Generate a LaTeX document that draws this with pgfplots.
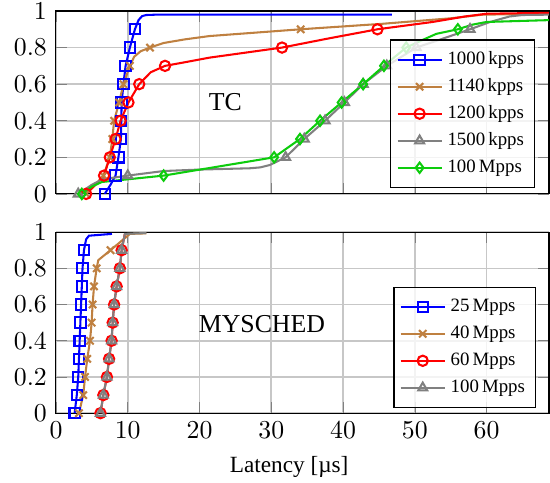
\documentclass[border=0pt]{standalone}
\usepackage{fontspec}
\setmainfont{Liberation Serif}
\usepackage{pgfplots}
\pgfplotsset{compat=1.18}
\definecolor{cbrown}{rgb}{0.75,0.5,0.25}
\definecolor{cgreen}{rgb}{0.05,0.8,0.05}
\pgfplotsset{
  cdf/.style={
    width=191.1pt, scale only axis, xmin=0, xmax=68.7, ymin=0, ymax=1,
    xtick={0,10,20,30,40,50,60}, ytick={0,0.2,0.4,0.6,0.8,1},
    grid=major, grid style={black!22, line width=0.6pt},
    legend cell align=left,
    legend image post style={mark indices={2}},
    legend style={font=\fontsize{7.3}{9}\selectfont, fill=white, fill opacity=0.8, draw opacity=1, text opacity=1,
      inner xsep=2.2pt, inner ysep=2.4pt,
      nodes={text height=5.3pt, text depth=1.45pt, inner ysep=1.86pt, inner xsep=1.9pt},
      at={(rel axis cs:1,0)}, anchor=south east, xshift=-5.4pt, yshift=2.3pt},
    every axis plot/.append style={thick},
  }
}
\begin{document}
\begin{tikzpicture}
\begin{axis}[cdf, height=70.9pt, at={(0,0)}, anchor=north west, xticklabels={}]
\addplot[blue, mark=square, mark indices={1,3,4,5,6,7,8,9,10,11}] coordinates {
(6.8,0) (7.6,0.05) (8.3,0.1) (8.7,0.2) (9.05,0.3) (9.1,0.4) (9.15,0.5) (9.4,0.6) (9.7,0.7) (10.3,0.8) (11.0,0.9) (11.5,0.95) (12.0,0.972) (12.6,0.978) (14,0.98) (46.8,0.98)};
\addlegendentry{1000\,kpps}
\addplot[cbrown, mark=x, mark indices={1,3,4,5,6,7,8,9,12,16}] coordinates {
(4.2,0) (5.5,0.05) (6.6,0.1) (7.5,0.2) (7.85,0.3) (8.1,0.4) (8.8,0.5) (9.4,0.6) (10.3,0.7) (10.9,0.75) (11.8,0.78) (13.1,0.8) (15,0.825) (18,0.845) (21.4,0.863) (34.1,0.9) (45.5,0.93) (55,0.96) (59.5,0.98) (68.7,0.985)};
\addlegendentry{1140\,kpps}
\addplot[red, mark=o, mark indices={1,3,4,5,6,7,8,10,14,16}] coordinates {
(4.2,0) (5.5,0.05) (6.7,0.1) (7.5,0.2) (8.3,0.3) (9.0,0.4) (10.1,0.5) (11.6,0.6) (13.2,0.665) (15.2,0.7) (18,0.72) (21.4,0.745) (26,0.77) (31.5,0.8) (38,0.85) (44.8,0.9) (52.5,0.94) (57,0.97) (60,0.985) (68.7,0.99)};
\addlegendentry{1200\,kpps}
\addplot[gray, mark=triangle, mark indices={1,4,10,11,12,13,14,15,16,18}] coordinates {
(3.1,0) (5,0.05) (6.5,0.08) (10,0.1) (15,0.125) (20,0.133) (27,0.14) (28.5,0.145) (29.8,0.158) (32.0,0.2) (34.6,0.3) (37.5,0.4) (40.2,0.5) (42.8,0.6) (46.1,0.7) (50.2,0.8) (54,0.85) (57.7,0.9) (60.5,0.94) (63.2,0.97) (65,0.978) (68.7,0.98)};
\addlegendentry{1500\,kpps}
\addplot[cgreen, mark=diamond, mark indices={1,4,5,6,7,8,9,10,11,14}] coordinates {
(3.6,0) (5,0.04) (6.4,0.065) (15.0,0.1) (30.4,0.2) (34.0,0.3) (36.8,0.4) (39.8,0.5) (42.8,0.6) (45.7,0.7) (48.8,0.8) (51,0.84) (53,0.875) (56,0.9) (58,0.925) (60,0.94) (68.7,0.95)};
\addlegendentry{100\,Mpps}
\node at (axis cs:23.6,0.5) {TC};
\end{axis}
\begin{axis}[cdf, height=70.2pt, at={(0,-85.7pt)}, anchor=north west,
  legend style={xshift=0.4pt, yshift=-0.3pt},
  xlabel={Latency [µs]},
  xlabel style={font=\fontsize{9}{11}\selectfont, at={(ticklabel cs:0.473)}, anchor=near ticklabel}]
\addplot[blue, mark=square, mark indices={1,2,3,4,5,6,7,8,9,10}] coordinates {
(2.6,0) (2.9,0.1) (3.1,0.2) (3.2,0.3) (3.3,0.4) (3.4,0.5) (3.5,0.6) (3.6,0.7) (3.7,0.8) (3.9,0.9) (4.2,0.96) (4.6,0.98) (7.8,0.99)};
\addlegendentry{25\,Mpps}
\addplot[cbrown, mark=x, mark indices={1,2,3,4,5,6,7,8,9,11}] coordinates {
(3.2,0) (3.8,0.1) (4.05,0.2) (4.36,0.3) (4.74,0.4) (4.97,0.5) (5.1,0.6) (5.3,0.7) (5.67,0.8) (5.9,0.845) (7.6,0.9) (10.3,0.99) (12.6,0.993)};
\addlegendentry{40\,Mpps}
\addplot[red, mark=o, mark indices={1,2,3,4,5,6,7,8,9,10}] coordinates {
(6.2,0) (6.6,0.1) (7.1,0.2) (7.4,0.3) (7.75,0.4) (7.9,0.5) (8.1,0.6) (8.45,0.7) (8.9,0.8) (9.15,0.9) (9.6,0.99)};
\addlegendentry{60\,Mpps}
\addplot[gray, mark=triangle, mark indices={1,2,3,4,5,6,7,8,9,10}] coordinates {
(6.2,0) (6.6,0.1) (7.1,0.2) (7.4,0.3) (7.75,0.4) (7.9,0.5) (8.1,0.6) (8.45,0.7) (8.9,0.8) (9.15,0.9) (9.6,0.99) (12.6,0.995)};
\addlegendentry{100\,Mpps}
\node at (axis cs:28.7,0.49) {MYSCHED};
\end{axis}
\pgfresetboundingbox
\useasboundingbox (-21.7pt,4.26pt) rectangle (191.5pt,-182.6pt);
\end{tikzpicture}
\end{document}
